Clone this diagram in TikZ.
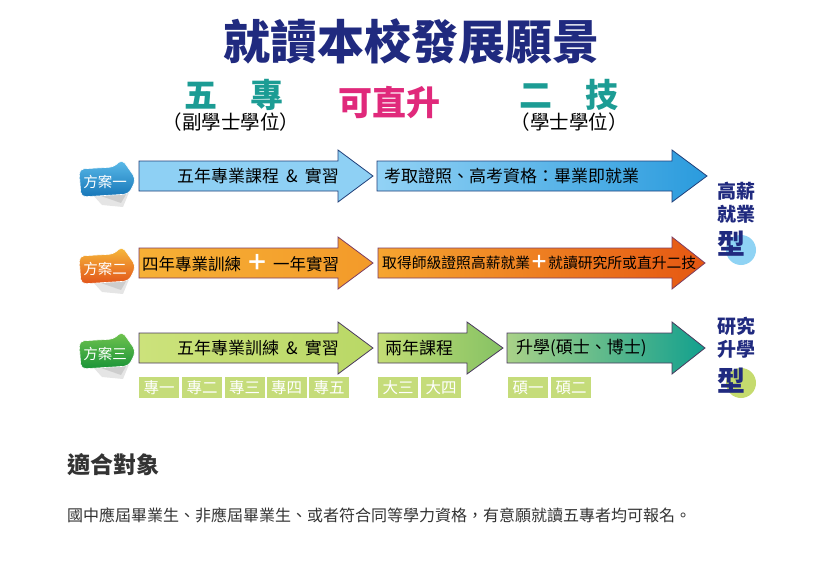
\documentclass[tikz,border=0pt]{standalone}
\usepackage{fontspec}
\setmainfont{Noto Sans CJK TC}
\definecolor{navy}{HTML}{202A7F}
\definecolor{tealc}{HTML}{1C9C94}
\definecolor{magc}{HTML}{E0297B}
\definecolor{bline}{HTML}{21407A}
\definecolor{oline}{HTML}{7E3E62}
\definecolor{gline}{HTML}{4A3A5E}
\definecolor{boxg}{HTML}{C5DC7A}
\definecolor{txt}{HTML}{333333}
\definecolor{tagbA}{HTML}{5EBDEB}\definecolor{tagbB}{HTML}{1676B8}
\definecolor{tagoA}{HTML}{F7BE3C}\definecolor{tagoB}{HTML}{E2541A}
\definecolor{taggA}{HTML}{74C54F}\definecolor{taggB}{HTML}{1A9438}
\definecolor{aA}{HTML}{8ED0F4}
\definecolor{aB}{HTML}{92D2F5}\definecolor{aC}{HTML}{2A9BDD}
\definecolor{bA}{HTML}{F6B035}\definecolor{bB}{HTML}{F39A2A}
\definecolor{bC}{HTML}{F6A530}\definecolor{bD}{HTML}{E55712}
\definecolor{cA}{HTML}{CCE27B}\definecolor{cB}{HTML}{B9D866}
\definecolor{cC}{HTML}{C3DD75}\definecolor{cD}{HTML}{86C264}
\definecolor{cE}{HTML}{A9D288}\definecolor{cF}{HTML}{12A08E}
\definecolor{circB}{HTML}{8FD3F4}\definecolor{circG}{HTML}{C5DB6E}
\newcommand\fs[1]{\fontsize{#1}{#1}\selectfont}
% arrow: #1 name, #2 x0, #3 head start, #4 tip, #5 y centre, #6 style
\newcommand\harrow[6]{%
  \draw[#6] (#2,#5-15) -- (#3,#5-15) -- (#3,#5-26) -- (#4,#5) -- (#3,#5+26) -- (#3,#5+15) -- (#2,#5+15) -- cycle;
  \coordinate (#1) at ({(#2+#4)/2},#5);}
% tag: #1 name, #2 y centre, #3 top colour, #4 bottom colour, #5 text
\newcommand\plantag[5]{%
  \begin{scope}[shift={(106,#2)}]
    \fill[black,opacity=0.10] (-14,13) -- (24,9) -- (17,26) -- (-4,24) -- cycle;
    \fill[black,opacity=0.10] (-8,14) -- (22,10) -- (15,22) -- cycle;
    \draw[draw=white,line width=0.6pt,top color=#3,bottom color=#4,rounded corners=5pt]
      (-27,-12) -- (8,-14) -- (16,-22) -- (30,-2) -- (23,13) -- (-25,16) -- cycle;
    \node[tagtext] (#1) at (-1,1) {#5};
  \end{scope}}
\tikzset{
  tagtext/.style={text=white,font=\fs{14.5}},
  arrtext/.style={text=black,font=\fs{17},inner sep=0pt},
  arrtextb/.style={text=black,font=\fs{14.8},inner sep=0pt},
  yearbox/.style={fill=boxg,text=white,minimum width=40pt,minimum height=21pt,inner sep=0pt,font=\fs{15.5}},
  sidelab/.style={text=navy,font=\fs{19}\bfseries,inner sep=0pt},
  xing/.style={text=navy,font=\fs{28}\bfseries,inner sep=0pt},
}
\begin{document}
\begin{tikzpicture}[x=1pt,y=-1pt]
\useasboundingbox (0,0) rectangle (817,570);
\fill[white] (0,0) rectangle (817,570);

% title
\node[text=navy,font=\fs{47}\bfseries,inner sep=0pt] (title) at (411,42) {就讀本校發展願景};
\node[text=tealc,font=\fs{33}\bfseries,inner sep=0pt] (wuzhuan) at (234,95) {五　專};
\node[text=magc,font=\fs{34}\bfseries,inner sep=0pt] (kezhi) at (389,103) {可直升};
\node[text=tealc,font=\fs{33}\bfseries,inner sep=0pt] (erji) at (569,95) {二　技};
\node[text=black,font=\fs{19.5},inner sep=0pt] (sub1) at (231,122) {（副學士學位）};
\node[text=black,font=\fs{19.5},inner sep=0pt] (sub2) at (569,122) {（學士學位）};

% row 1
\plantag{t1}{181}{tagbA}{tagbB}{方案一}
\harrow{a1}{139}{338}{373}{176}{draw=bline,line width=0.8pt,fill=aA}
\harrow{a2}{377}{672}{707}{176}{draw=bline,line width=0.8pt,left color=aB,right color=aC}
\node[arrtext] (a1t) at (258,176) {五年專業課程\hspace{7pt}\&\hspace{7pt}實習};
\node[arrtext,anchor=west] (a2t) at (384,176) {考取證照、高考資格：畢業即就業};

% row 2
\plantag{t2}{268}{tagoA}{tagoB}{方案二}
\harrow{b1}{139}{338}{373}{263}{draw=oline,line width=0.8pt,left color=bA,right color=bB}
\harrow{b2}{378}{672}{705}{263}{draw=oline,line width=0.8pt,left color=bC,right color=bD}
\node[arrtext,font=\fs{16.5},anchor=west] (b1t) at (142,263) {四年專業訓練\hspace{5pt}{\color{white}\fs{22}\bfseries ＋}\hspace{5pt}一年實習};
\node[arrtextb,anchor=west] (b2t) at (382,263) {取得師級證照高薪就業{\color{white}\fs{18}\bfseries ＋}就讀研究所或直升二技};

% row 3
\plantag{t3}{353}{taggA}{taggB}{方案三}
\harrow{c1}{139}{338}{373}{348}{draw=gline,line width=0.8pt,left color=cA,right color=cB}
\harrow{c2}{378}{467}{503}{348}{draw=gline,line width=0.8pt,left color=cC,right color=cD}
\harrow{c3}{507}{672}{705}{348}{draw=gline,line width=0.8pt,left color=cE,right color=cF}
\node[arrtext] (c1t) at (258,348) {五年專業訓練\hspace{7pt}\&\hspace{7pt}實習};
\node[arrtext,anchor=west] (c2t) at (385,348) {兩年課程};
\node[arrtext,anchor=west] (c3t) at (516,348) {升學(碩士、博士)};

% year boxes
\node[yearbox] (y1) at (159,387.5) {專一};
\node[yearbox] (y2) at (202,387.5) {專二};
\node[yearbox] (y3) at (244.5,387.5) {專三};
\node[yearbox] (y4) at (286.5,387.5) {專四};
\node[yearbox] (y5) at (329,387.5) {專五};
\node[yearbox] (y6) at (398,387.5) {大三};
\node[yearbox] (y7) at (441,387.5) {大四};
\node[yearbox] (y8) at (528,387.5) {碩一};
\node[yearbox] (y9) at (571,387.5) {碩二};

% side labels
\node[sidelab] (s1) at (736,191) {高薪};
\node[sidelab] (s2) at (736,214) {就業};
\fill[circB] (741,250) circle (15);
\node[xing] (s3) at (731,244) {型};
\node[sidelab] (s4) at (736,326) {研究};
\node[sidelab] (s5) at (736,349) {升學};
\fill[circG] (741,383) circle (15);
\node[xing] (s6) at (731,381) {型};

% bottom text
\node[text=txt,font=\fs{23}\bfseries,anchor=west,inner sep=0pt] (head) at (67,465) {適合對象};
\node[text=txt,font=\fs{16},anchor=west,inner sep=0pt] (body) at (67,515) {國中應屆畢業生、非應屆畢業生、或者符合同等學力資格，有意願就讀五專者均可報名。};
\end{tikzpicture}
\end{document}
